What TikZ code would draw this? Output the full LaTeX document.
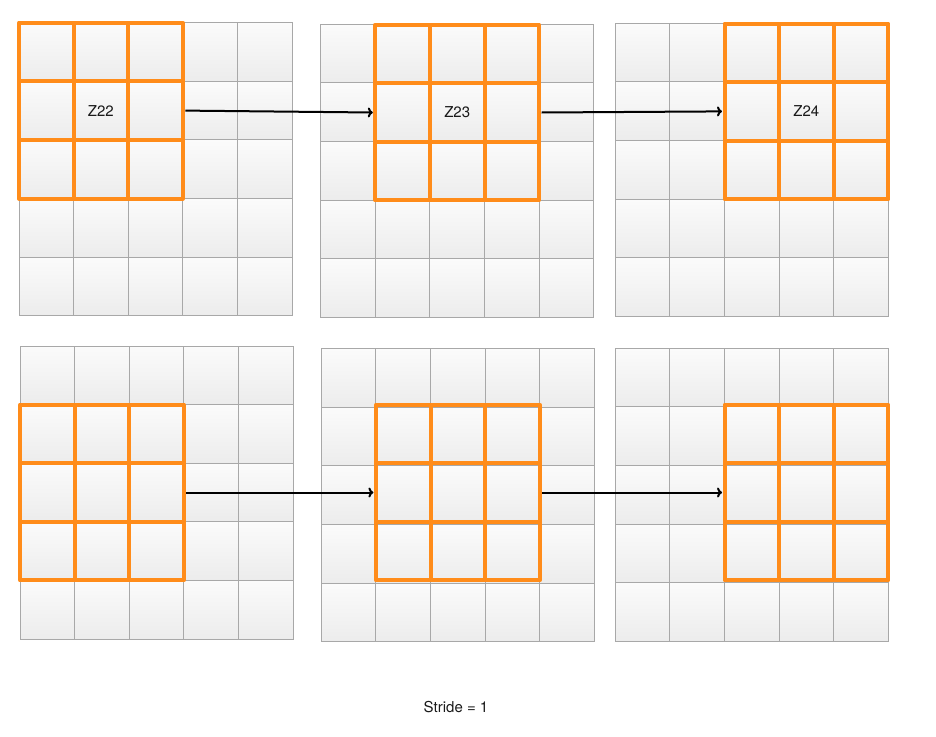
\documentclass[tikz,border=0pt]{standalone}
\usepackage{fontspec}
\setmainfont{TeX Gyre Heros}
\usetikzlibrary{arrows.meta,positioning}
\definecolor{cnvorange}{HTML}{FF8C1A}
\definecolor{cnvgrid}{HTML}{A8A8A8}
\definecolor{cnvtop}{HTML}{FBFBFB}
\definecolor{cnvbot}{HTML}{ECECEC}
\definecolor{cnvink}{HTML}{1A1A1A}
\tikzset{
  cell/.style={draw=cnvgrid, line width=1pt, top color=cnvtop, bottom color=cnvbot},
  win/.style={draw=cnvorange, line width=4pt, line join=round},
  winbox/.style={minimum width=163.8pt, minimum height=175.8pt, inner sep=0pt, outer sep=2.5pt, font=\fontsize{15}{18}\selectfont, text=cnvink},
  arr/.style={-{To[length=5pt,width=10pt]}, line width=2pt, color=black},
  lbl/.style={font=\fontsize{15}{18}\selectfont, text=cnvink},
}
\begin{document}
\begin{tikzpicture}[x=1pt,y=-1pt]
      \useasboundingbox (0,0) rectangle (936,736);
      % 5x5 inputs at (x,y), 3x3 window at (wx,wy): g/x/y/wx/wy/label
      \foreach \g/\gx/\gy/\wx/\wy/\t in {1/19/22.7/19/22.7/Z22, 2/320.7/24.3/375.3/24.6/Z23, 3/615.3/23.3/724.5/23.5/Z24, 4/20/346/20/404.6/, 5/321.3/348.7/375.9/404.6/, 6/615.3/348.3/724.5/404.6/}
        { \foreach \i in {0,...,4} \foreach \j in {0,...,4}
            { \path[cell] (\gx+\i*54.6,\gy+\j*58.6) rectangle ++(54.6,58.6); }
          \foreach \i in {0,1,2} \foreach \j in {0,1,2}
            { \draw[win] (\wx+\i*54.6,\wy+\j*58.6) rectangle ++(54.6,58.6); }
          \node[winbox] (win\g) at (\wx+81.9,\wy+87.9) {\t}; }
      \draw[arr] (win1.east) -- (win2.west);
      \draw[arr] (win2.east) -- (win3.west);
      \draw[arr] (win4.east) -- (win5.west);
      \draw[arr] (win5.east) -- (win6.west);
      \node[lbl] (stride) at (456,707) {Stride = 1};
    \end{tikzpicture}
\end{document}
